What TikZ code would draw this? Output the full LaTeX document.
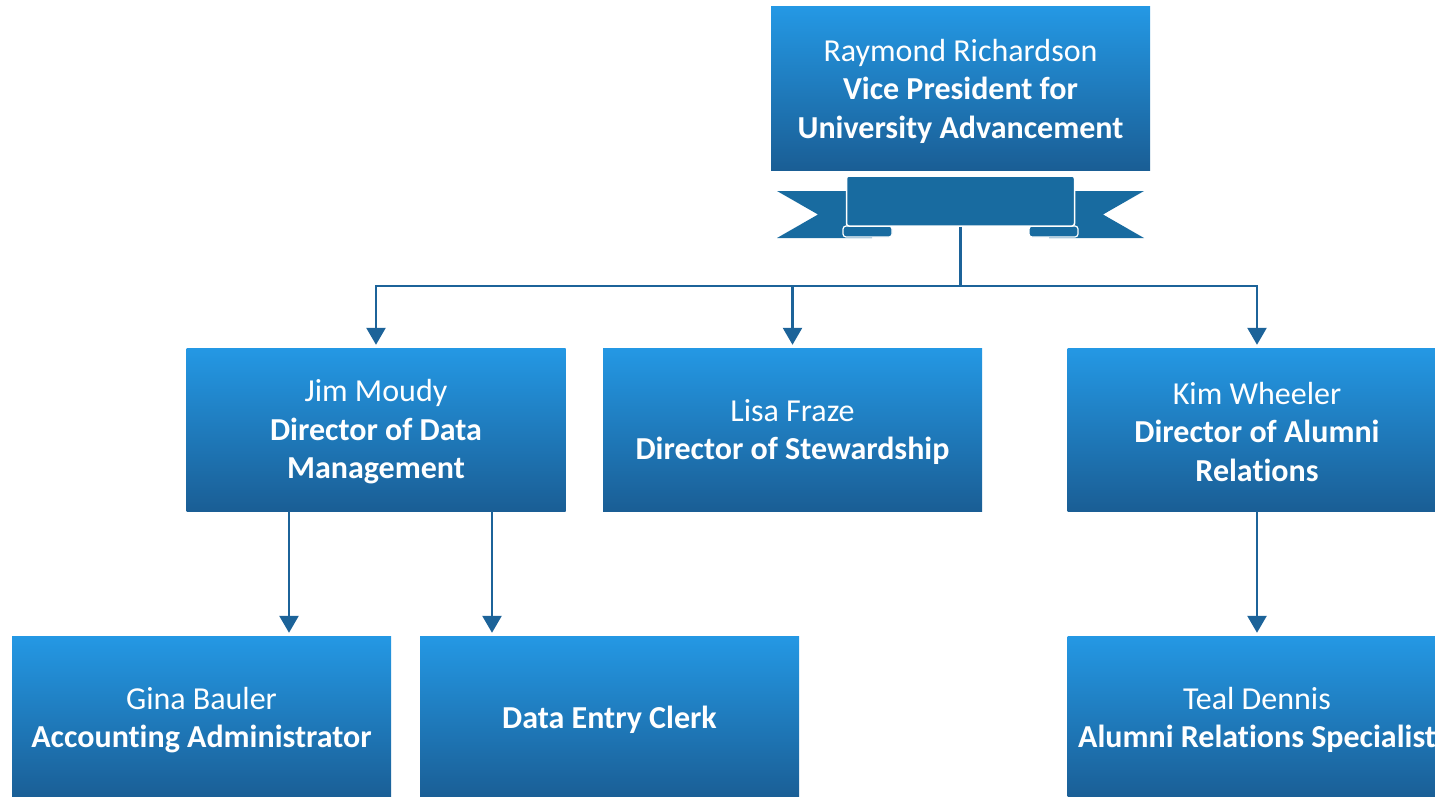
\documentclass[tikz,border=0pt]{standalone}
\usepackage{fontspec}
\setmainfont[Ligatures={NoCommon}]{Carlito}
\usetikzlibrary{arrows.meta,calc}
\definecolor{boxtop}{HTML}{2498E4}
\definecolor{boxbot}{HTML}{1A5E95}
\definecolor{lineblue}{HTML}{1C6399}
\definecolor{ribbon}{HTML}{186BA0}
\tikzset{
  box/.style={rectangle, minimum width=379pt, minimum height=163pt, inner sep=0pt,
    top color=boxtop, bottom color=boxbot},
  lbl/.style={text=white, align=center, inner sep=0pt,
    font=\fontsize{32}{38.5}\selectfont},
  conn/.style={draw=lineblue, line width=2.6pt},
  arr/.style={conn, -{Triangle[width=19pt,length=17pt]}, shorten >=3pt},
}
\begin{document}
\begin{tikzpicture}[x=1pt,y=-1pt]
\useasboundingbox (0,0) rectangle (1435,797);
\clip (0,0) rectangle (1435,797);
% boxes
\node[box] (vp) at (960.5,88.5) {};
\node[box] (jim) at (376,429.5) {};
\node[box] (lisa) at (792.5,429.5) {};
\node[box] (kim) at (1257,429.5) {};
\node[box] (gina) at (201.5,717.5) {};
\node[box] (clerk) at (609.5,717.5) {};
\node[box] (teal) at (1257,717.5) {};
\node[lbl] (vpt) at ([yshift=-2.5pt]vp.center) {Raymond Richardson\\\textbf{Vice President for}\\\textbf{University Advancement}};
\node[lbl] (jimt) at ([yshift=-2.5pt]jim.center) {Jim Moudy\\\textbf{Director of Data}\\\textbf{Management}};
\node[lbl] (lisat) at ([yshift=-2.5pt]lisa.center) {Lisa Fraze\\\textbf{Director of Stewardship}};
\node[lbl] (kimt) at ([yshift=-2.5pt]kim.center) {Kim Wheeler\\\textbf{Director of Alumni}\\\textbf{Relations}};
\node[lbl] (ginat) at ([yshift=-2.5pt]gina.center) {Gina Bauler\\\textbf{Accounting Administrator}};
\node[lbl] (clerkt) at ([yshift=-2.5pt]clerk.center) {\textbf{Data Entry Clerk}};
\node[lbl] (tealt) at ([yshift=-2.5pt]teal.center) {Teal Dennis\\\textbf{Alumni Relations Specialist}};
% ribbon
\fill[ribbon] (777,191) -- (872,191) -- (872,238) -- (777,238) -- (818,214.5) -- cycle;
\fill[ribbon] (1144,191) -- (1049,191) -- (1049,238) -- (1144,238) -- (1103,214.5) -- cycle;
\draw[white, line width=1.2pt, fill=ribbon, rounded corners=3pt] (843,226) rectangle (892,237);
\draw[white, line width=1.2pt, fill=ribbon, rounded corners=3pt] (1029,226) rectangle (1078,237);
\node[rectangle, rounded corners=2.5pt, draw=white, line width=1.5pt, fill=ribbon,
  minimum width=228pt, minimum height=50pt, inner sep=0pt] (banner) at (960.5,201) {};
% connectors
\coordinate (hub) at (960.5,286);
\draw[conn] (banner.south) -- (hub);
\draw[arr] (hub) -| (jim.north);
\draw[arr] (hub) -| (lisa.north);
\draw[arr] (hub) -| (kim.north);
\draw[arr] ([xshift=-87pt]jim.south) -- ([xshift=-87pt]jim.south |- gina.north);
\draw[arr] ([xshift=116pt]jim.south) -- ([xshift=116pt]jim.south |- clerk.north);
\draw[arr] (kim.south) -- (teal.north);
\end{tikzpicture}
\end{document}
